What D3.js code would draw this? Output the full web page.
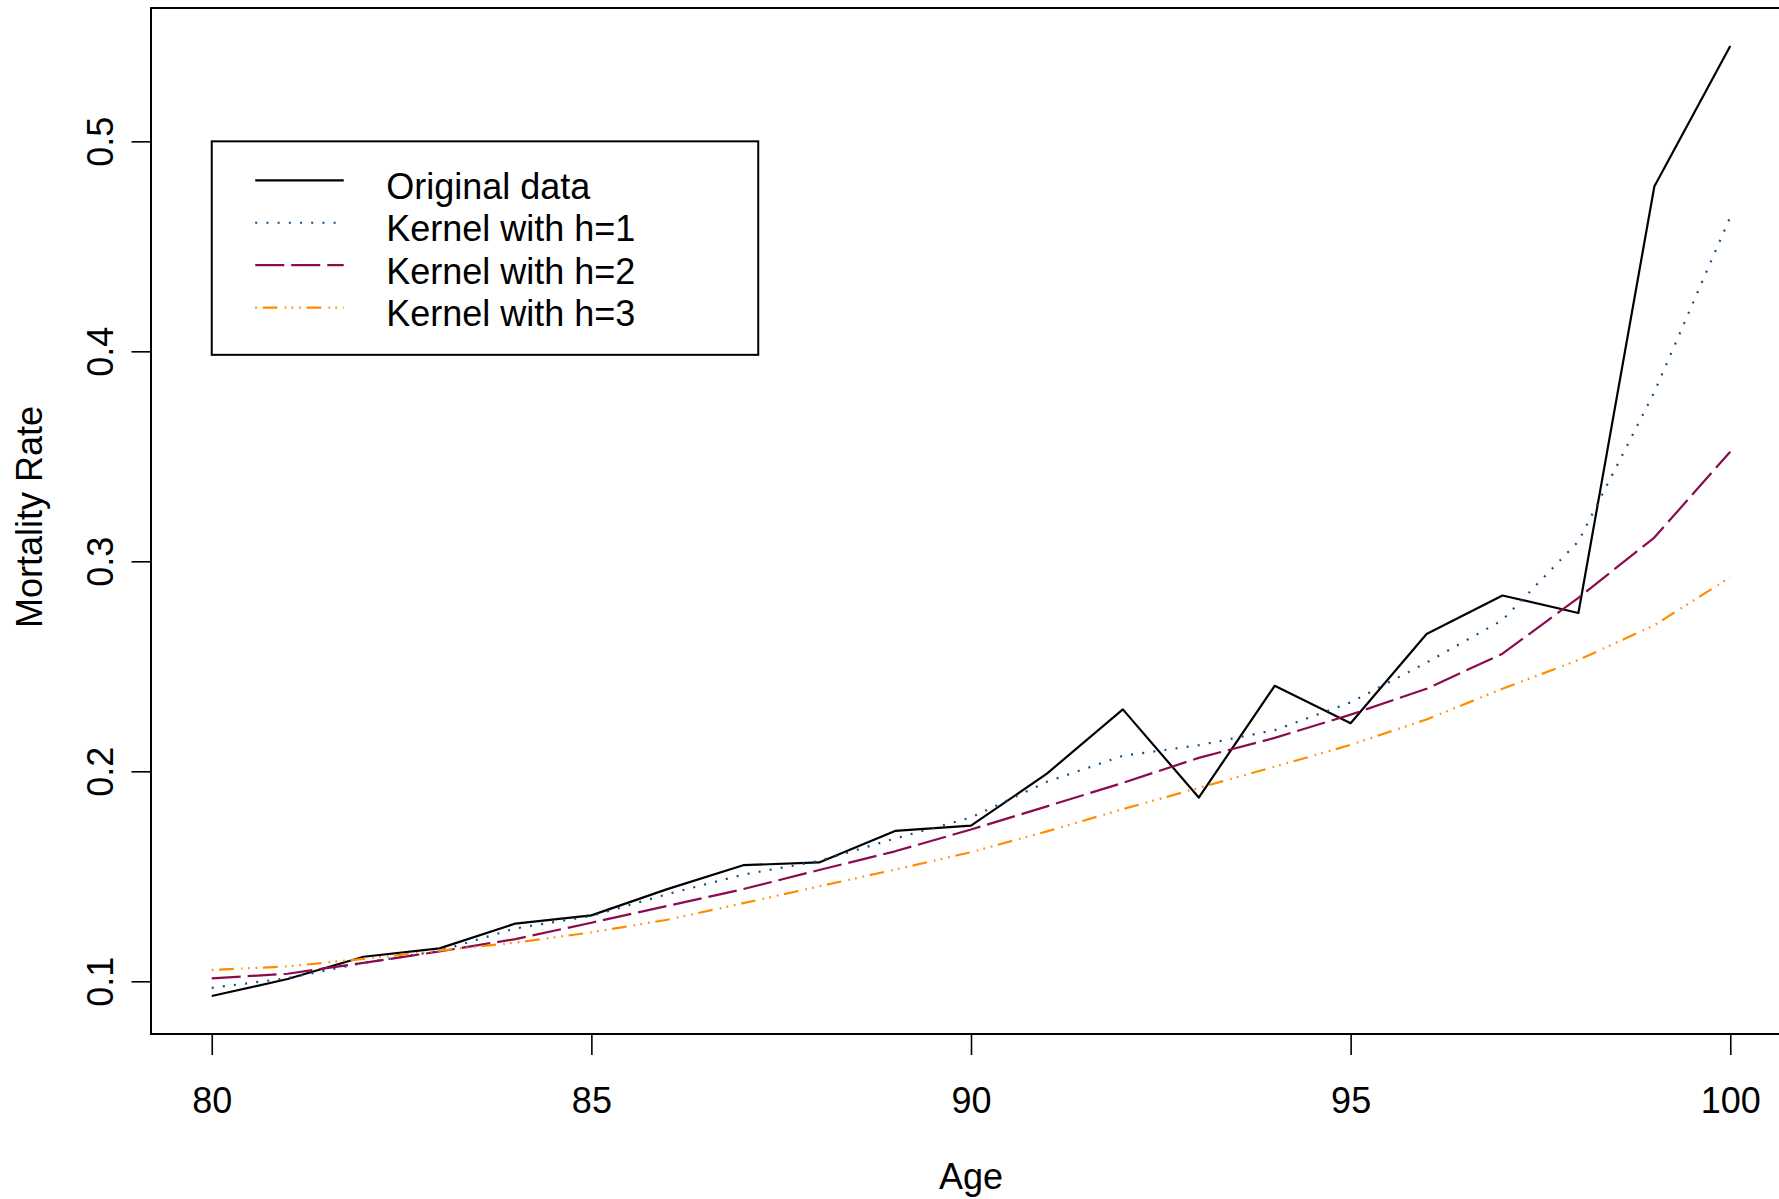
<!DOCTYPE html>
<html>
<head>
<meta charset="utf-8">
<script src="https://cdn.jsdelivr.net/npm/d3@7"></script>
<style>
  html, body { margin: 0; padding: 0; background: #ffffff; }
  svg { display: block; }
  text { font-family: "Liberation Sans", Arial, Helvetica, sans-serif; fill: #000; }
</style>
</head>
<body>
<script>
// Age range and mortality rates
const ages = [80, 81, 82, 83, 84, 85, 86, 87, 88, 89, 90, 91, 92, 93, 94, 95, 96, 97, 98, 99, 100];
const original = [0.0930, 0.1011, 0.1117, 0.1157, 0.1275, 0.1314, 0.1439, 0.1553, 0.1566, 0.1716, 0.1741, 0.1989, 0.2295, 0.1875, 0.2407, 0.2229, 0.2654, 0.2837, 0.2754, 0.4785, 0.5454];
const kernelH1 = [0.0969, 0.1015, 0.1088, 0.1145, 0.1252, 0.1311, 0.1415, 0.1508, 0.1573, 0.1680, 0.1780, 0.1950, 0.2074, 0.2124, 0.2196, 0.2328, 0.2518, 0.2720, 0.3095, 0.3806, 0.4640];
const kernelH2 = [0.1014, 0.1036, 0.1088, 0.1142, 0.1201, 0.1279, 0.1359, 0.1439, 0.1530, 0.1619, 0.1723, 0.1833, 0.1945, 0.2064, 0.2159, 0.2270, 0.2393, 0.2560, 0.2826, 0.3113, 0.3522];
const kernelH3 = [0.1054, 0.1071, 0.1107, 0.1146, 0.1184, 0.1233, 0.1293, 0.1372, 0.1452, 0.1532, 0.1615, 0.1714, 0.1820, 0.1921, 0.2022, 0.2126, 0.2247, 0.2393, 0.2530, 0.2696, 0.2924];

const xTicks = [80, 85, 90, 95, 100];
const yTicks = [0.1, 0.2, 0.3, 0.4, 0.5];
const legendLabels = ["Original data", "Kernel with h=1", "Kernel with h=2", "Kernel with h=3"];
const seriesColors = ["#000000", "#104E8B", "#8B0A50", "#FF8C00"];
const seriesDashes = [null, "2,9.2", "29,7", "1.7,5.7,14.7,7.3,1.5,5.3,1.7,6"];

const W = 1779, H = 1199;
const plot = { left: 151, right: 1791, top: 8, bottom: 1034 };
const FONT = 36;

const svg = d3.select("body").append("svg")
  .attr("width", W).attr("height", H)
  .attr("viewBox", `0 0 ${W} ${H}`);
svg.append("rect").attr("width", W).attr("height", H).attr("fill", "#fff");

// R-style 4% padding around the data range
function padded(ext) {
  const d = (ext[1] - ext[0]) * 0.04;
  return [ext[0] - d, ext[1] + d];
}
const allValues = original.concat(kernelH1, kernelH2, kernelH3);
const x = d3.scaleLinear().domain(padded(d3.extent(ages))).range([plot.left, plot.right]);
const y = d3.scaleLinear().domain(padded(d3.extent(allValues))).range([plot.bottom, plot.top]);

// Series lines
const line = d3.line().x((d, i) => x(ages[i])).y(d => y(d));
const series = [original, kernelH1, kernelH2, kernelH3];
series.forEach((vals, k) => {
  svg.append("path")
    .datum(vals)
    .attr("d", line)
    .attr("fill", "none")
    .attr("stroke", seriesColors[k])
    .attr("stroke-width", 2.2)
    .attr("stroke-linejoin", "round")
    .attr("stroke-dasharray", seriesDashes[k]);
});

// Plot frame
svg.append("rect")
  .attr("x", plot.left).attr("y", plot.top)
  .attr("width", plot.right - plot.left).attr("height", plot.bottom - plot.top)
  .attr("fill", "none").attr("stroke", "#000").attr("stroke-width", 2);

// Bottom axis
const xAxis = svg.append("g")
  .attr("transform", `translate(0,${plot.bottom})`)
  .call(d3.axisBottom(x).tickValues(xTicks).tickSize(21).tickPadding(0).tickFormat(d3.format("d")));
xAxis.select(".domain").remove();
xAxis.selectAll(".tick line").attr("stroke", "#000").attr("stroke-width", 1.6);
xAxis.selectAll(".tick text")
  .attr("y", 78.5).attr("dy", null)
  .style("font-size", FONT + "px").attr("fill", "#000");

// Left axis with rotated labels
const yAxis = svg.append("g")
  .attr("transform", `translate(${plot.left},0)`)
  .call(d3.axisLeft(y).tickValues(yTicks).tickSize(19.5).tickFormat(d3.format(".1f")));
yAxis.select(".domain").remove();
yAxis.selectAll(".tick line").attr("stroke", "#000").attr("stroke-width", 1.6);
yAxis.selectAll(".tick text")
  .attr("x", 0).attr("y", 0).attr("dy", null)
  .attr("text-anchor", "middle")
  .attr("transform", "translate(-38,0) rotate(-90)")
  .style("font-size", FONT + "px").attr("fill", "#000");

// Axis titles
svg.append("text")
  .attr("x", (plot.left + plot.right) / 2).attr("y", 1189)
  .attr("text-anchor", "middle").style("font-size", FONT + "px")
  .text("Age");
svg.append("text")
  .attr("transform", `translate(41.5,${(plot.top + plot.bottom) / 2 - 4}) rotate(-90)`)
  .attr("text-anchor", "middle").style("font-size", FONT + "px")
  .text("Mortality Rate");

// Legend anchored at (80, 0.5)
const lg = { x: x(80), y: y(0.5), w: 546.5, h: 213.5 };
svg.append("rect")
  .attr("x", lg.x).attr("y", lg.y).attr("width", lg.w).attr("height", lg.h)
  .attr("fill", "#fff").attr("stroke", "#000").attr("stroke-width", 2);
const rowY0 = lg.y + 39, rowStep = 42.4;
legendLabels.forEach((label, k) => {
  const ry = rowY0 + k * rowStep;
  svg.append("line")
    .attr("x1", lg.x + 43.5).attr("x2", lg.x + 132)
    .attr("y1", ry).attr("y2", ry)
    .attr("stroke", seriesColors[k]).attr("stroke-width", 2.2)
    .attr("stroke-dasharray", seriesDashes[k]);
  svg.append("text")
    .attr("x", lg.x + 174.5).attr("y", ry + 18.6)
    .style("font-size", FONT + "px")
    .text(label);
});
</script>
</body>
</html>
